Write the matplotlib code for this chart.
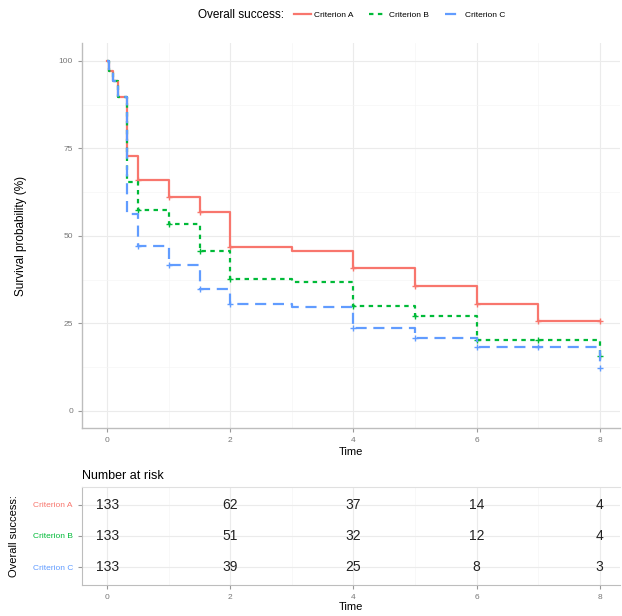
import numpy as np
import matplotlib.pyplot as plt
from matplotlib.lines import Line2D

plt.rcParams['font.family'] = ['Liberation Sans', 'DejaVu Sans']

# survival curves (step, post)
times = [0, 0.03, 0.1, 0.18, 0.32, 0.5, 1, 1.5, 2, 3, 4, 5, 6, 7, 8]
surv_a = [100, 97, 94.3, 89.6, 72.9, 66.0, 61.1, 56.8, 46.8, 45.6, 40.8, 35.6, 30.5, 25.6, 25.6]
surv_b = [100, 97, 94.3, 89.6, 65.5, 57.4, 53.4, 45.8, 37.7, 36.8, 29.9, 27.0, 20.2, 20.2, 15.6]
surv_c = [100, 97, 94.3, 89.6, 56.3, 47.2, 41.7, 34.9, 30.5, 29.6, 23.7, 20.8, 18.2, 18.2, 12.2]
censor_times = [0.5, 1, 1.5, 2, 4, 5, 6, 7, 8]

groups = ['Criterion A', 'Criterion B', 'Criterion C']
colors = ['#F8766D', '#00BA38', '#619CFF']

# number at risk
risk_times = [0, 2, 4, 6, 8]
risk_a = [133, 62, 37, 14, 4]
risk_b = [133, 51, 32, 12, 4]
risk_c = [133, 39, 25, 8, 3]

fig = plt.figure(figsize=(6.22, 6.16), dpi=100)
W, H = 622, 616

def box(l, t, r, b):
    return [l / W, 1 - b / H, (r - l) / W, (b - t) / H]

grid_major = '#ebebeb'
grid_minor = '#f5f5f5'
axis_col = '#bdbdbd'

# ---- main survival panel
ax = fig.add_axes(box(82, 43, 620, 428))
styles = [dict(ls='-'), dict(ls=(0, (2, 2))), dict(ls=(0, (5, 3)))]
for surv, col, st in zip([surv_a, surv_b, surv_c], colors, styles):
    ax.step(times, surv, where='post', color=col, lw=1.6, **st)
    idx = [times.index(t) for t in censor_times]
    ax.plot(censor_times, [surv[i] for i in idx], ls='none', marker='+',
            ms=5, mew=1.0, color=col)

ax.set_xlim(-0.41, 8.33)
ax.set_ylim(-4.9, 105.1)
ax.set_xticks([0, 2, 4, 6, 8])
ax.set_yticks([0, 25, 50, 75, 100])
ax.set_xticks([1, 3, 5, 7], minor=True)
ax.set_yticks([12.5, 37.5, 62.5, 87.5], minor=True)
ax.grid(which='major', color=grid_major, lw=0.8)
ax.grid(which='minor', color=grid_minor, lw=0.5)
ax.set_axisbelow(True)
for s in ['top', 'right']:
    ax.spines[s].set_visible(False)
for s in ['left', 'bottom']:
    ax.spines[s].set_color(axis_col)
    ax.spines[s].set_linewidth(1.0)
ax.tick_params(which='major', colors='#999999', labelsize=6, length=3, labelcolor='#777777')
ax.tick_params(which='minor', length=0)
ax.set_xlabel('Time', fontsize=8, labelpad=2)
ax.set_ylabel('Survival probability (%)', fontsize=8.5, labelpad=23)

# legend on top: title as text, entries next to it
fig.text(284 / W, 1 - 15 / H, 'Overall success:', ha='right', va='center', fontsize=8.5)
handles = [Line2D([], [], color=c, lw=1.6, **st) for c, st in zip(colors, styles)]
fig.legend(handles, groups, loc='center left', bbox_to_anchor=(294 / W, 1 - 15 / H),
           ncol=3, frameon=False, fontsize=6, handlelength=2.0, columnspacing=1.9,
           handletextpad=0.4, borderaxespad=0, borderpad=0)

# ---- risk table
rt = fig.add_axes(box(82, 487, 620, 585))
rows = [risk_a, risk_b, risk_c]
ypos = [3, 2, 1]
for vals, y in zip(rows, ypos):
    for t, v in zip(risk_times, vals):
        rt.text(t, y, str(v), ha='center', va='center', fontsize=10, color='#222222')
rt.set_xlim(-0.41, 8.33)
rt.set_ylim(0.42, 3.58)
rt.set_xticks([0, 2, 4, 6, 8])
rt.set_yticks(ypos)
rt.set_yticklabels(groups)
rt.set_xticks([1, 3, 5, 7], minor=True)
rt.grid(which='major', color=grid_major, lw=0.8)
rt.grid(which='minor', axis='x', color=grid_minor, lw=0.5)
rt.set_axisbelow(True)
rt.spines['right'].set_visible(False)
for s in ['left', 'bottom']:
    rt.spines[s].set_color(axis_col)
rt.spines['top'].set_color('#e0e0e0')
rt.tick_params(which='major', colors='#999999', labelsize=6, length=3, labelcolor='#777777')
for lab, c in zip(rt.get_yticklabels(), colors):
    lab.set_color(c)
rt.tick_params(which='minor', length=0)
rt.set_xlabel('Time', fontsize=8, labelpad=1)
rt.set_ylabel('Overall success:', fontsize=8, labelpad=10)
rt.set_title('Number at risk', loc='left', fontsize=9, pad=6)

fig.savefig('out.png', dpi=100)
